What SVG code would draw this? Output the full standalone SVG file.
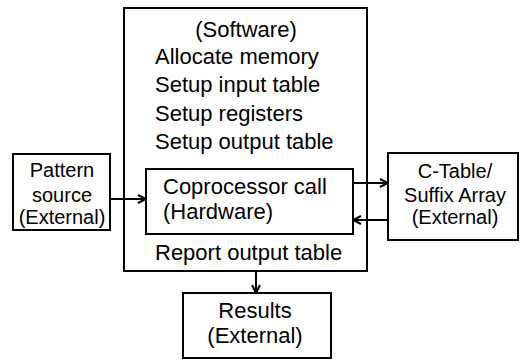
<svg xmlns="http://www.w3.org/2000/svg" width="520" height="360" viewBox="0 0 520 360">
<defs>
<marker id="arr" viewBox="0 0 10 10" refX="9" refY="5" markerWidth="10" markerHeight="10" markerUnits="userSpaceOnUse" orient="auto">
<path d="M1,1 L9,5 L1,9" fill="none" stroke="#000" stroke-width="2"/>
</marker>
<style>
.box{fill:#fff;stroke:#000;stroke-width:2}
.t{font-family:"Liberation Sans",Arial,sans-serif;font-size:22px;fill:#000}
.s{font-family:"Liberation Sans",Arial,sans-serif;font-size:20px;fill:#000;text-anchor:middle}
.r{font-family:"Liberation Sans",Arial,sans-serif;font-size:22px;fill:#000;text-anchor:middle}
.c{fill:none;stroke:#000;stroke-width:2}
</style>
</defs>
<rect width="520" height="360" fill="#fff"/>
<g id="software">
<rect class="box" x="124" y="8" width="243" height="263"/>
<text class="t" x="246" y="37" text-anchor="middle">(Software)</text>
<text class="t" x="155" y="64">Allocate memory</text>
<text class="t" x="155" y="92">Setup input table</text>
<text class="t" x="155" y="121">Setup registers</text>
<text class="t" x="155" y="149">Setup output table</text>
<text class="t" x="155" y="260">Report output table</text>
</g>
<g id="coprocessor">
<rect class="box" x="146" y="169" width="207" height="65"/>
<text class="t" x="163" y="194">Coprocessor call</text>
<text class="t" x="163" y="219">(Hardware)</text>
</g>
<g id="pattern">
<rect class="box" x="13" y="154" width="97" height="76"/>
<text class="s" x="62" y="177">Pattern</text>
<text class="s" x="62" y="202">source</text>
<text class="s" x="62" y="224">(External)</text>
</g>
<g id="ctable">
<rect class="box" x="388" y="153" width="130" height="87"/>
<text class="s" x="455" y="178">C-Table/</text>
<text class="s" x="455" y="202">Suffix Array</text>
<text class="s" x="455" y="224">(External)</text>
</g>
<g id="results">
<rect class="box" x="183" y="293" width="148" height="65"/>
<text class="r" x="255" y="318">Results</text>
<text class="r" x="255" y="343">(External)</text>
</g>
<g id="connectors">
<line class="c" x1="110" y1="199" x2="146" y2="199" marker-end="url(#arr)"/>
<line class="c" x1="353" y1="183" x2="388" y2="183" marker-end="url(#arr)"/>
<line class="c" x1="388" y1="220" x2="353" y2="220" marker-end="url(#arr)"/>
<line class="c" x1="256" y1="271" x2="256" y2="293" marker-end="url(#arr)"/>
</g>
</svg>
